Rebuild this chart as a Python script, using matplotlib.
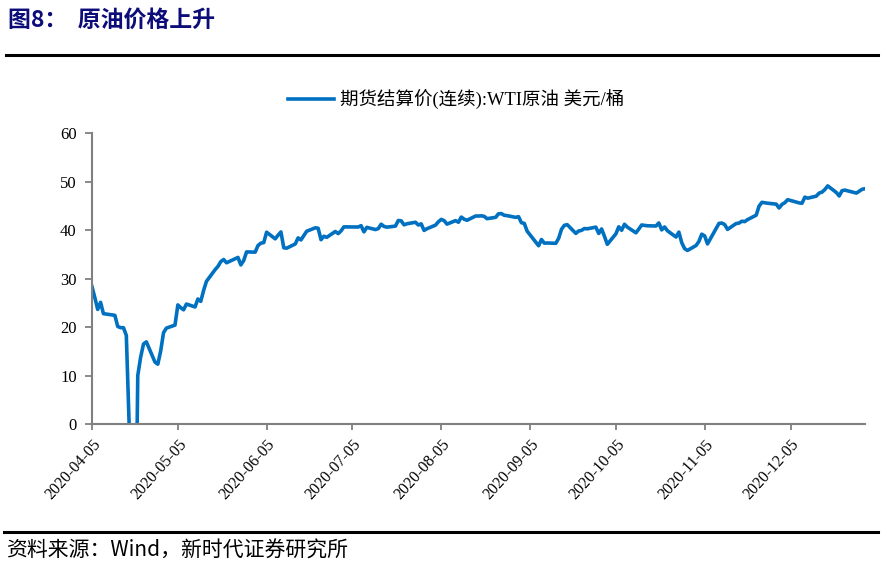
import matplotlib
matplotlib.use("Agg")
import matplotlib.pyplot as plt
from matplotlib.lines import Line2D
import pandas as pd

plt.rcParams['font.family'] = ['Liberation Serif', 'Noto Sans CJK SC']

# WTI settle prices
fechas = [
    "2020-04-05", "2020-04-06", "2020-04-07", "2020-04-08", "2020-04-09", "2020-04-13", "2020-04-14",
    "2020-04-15", "2020-04-16", "2020-04-17", "2020-04-20", "2020-04-21", "2020-04-22", "2020-04-23",
    "2020-04-24", "2020-04-27", "2020-04-28", "2020-04-29", "2020-04-30",
    "2020-05-01", "2020-05-04", "2020-05-05", "2020-05-06", "2020-05-07", "2020-05-08", "2020-05-11",
    "2020-05-12", "2020-05-13", "2020-05-14", "2020-05-15", "2020-05-18", "2020-05-19", "2020-05-20",
    "2020-05-21", "2020-05-22", "2020-05-26", "2020-05-27", "2020-05-28", "2020-05-29",
    "2020-06-01", "2020-06-02", "2020-06-03", "2020-06-04", "2020-06-05", "2020-06-08", "2020-06-09",
    "2020-06-10", "2020-06-11", "2020-06-12", "2020-06-15", "2020-06-16", "2020-06-17", "2020-06-18",
    "2020-06-19", "2020-06-22", "2020-06-23", "2020-06-24", "2020-06-25", "2020-06-26", "2020-06-29",
    "2020-06-30",
    "2020-07-01", "2020-07-02", "2020-07-06", "2020-07-07", "2020-07-08", "2020-07-09", "2020-07-10",
    "2020-07-13", "2020-07-14", "2020-07-15", "2020-07-16", "2020-07-17", "2020-07-20", "2020-07-21",
    "2020-07-22", "2020-07-23", "2020-07-24", "2020-07-27", "2020-07-28", "2020-07-29", "2020-07-30",
    "2020-07-31",
    "2020-08-03", "2020-08-04", "2020-08-05", "2020-08-06", "2020-08-07", "2020-08-10", "2020-08-11",
    "2020-08-12", "2020-08-13", "2020-08-14", "2020-08-17", "2020-08-18", "2020-08-19", "2020-08-20",
    "2020-08-21", "2020-08-24", "2020-08-25", "2020-08-26", "2020-08-27", "2020-08-28", "2020-08-31",
    "2020-09-01", "2020-09-02", "2020-09-03", "2020-09-04", "2020-09-08", "2020-09-09", "2020-09-10",
    "2020-09-11", "2020-09-14", "2020-09-15", "2020-09-16", "2020-09-17", "2020-09-18", "2020-09-21",
    "2020-09-22", "2020-09-23", "2020-09-24", "2020-09-25", "2020-09-28", "2020-09-29", "2020-09-30",
    "2020-10-01", "2020-10-02", "2020-10-05", "2020-10-06", "2020-10-07", "2020-10-08", "2020-10-09",
    "2020-10-12", "2020-10-13", "2020-10-14", "2020-10-15", "2020-10-16", "2020-10-19", "2020-10-20",
    "2020-10-21", "2020-10-22", "2020-10-23", "2020-10-26", "2020-10-27", "2020-10-28", "2020-10-29",
    "2020-10-30",
    "2020-11-02", "2020-11-03", "2020-11-04", "2020-11-05", "2020-11-06", "2020-11-09", "2020-11-10",
    "2020-11-11", "2020-11-12", "2020-11-13", "2020-11-16", "2020-11-17", "2020-11-18", "2020-11-19",
    "2020-11-20", "2020-11-23", "2020-11-24", "2020-11-25", "2020-11-27", "2020-11-30",
    "2020-12-01", "2020-12-02", "2020-12-03", "2020-12-04", "2020-12-07", "2020-12-08", "2020-12-09",
    "2020-12-10", "2020-12-11", "2020-12-14", "2020-12-15", "2020-12-16", "2020-12-17", "2020-12-18",
    "2020-12-21", "2020-12-22", "2020-12-23", "2020-12-24", "2020-12-28", "2020-12-29", "2020-12-30",
    "2020-12-31",
]

precio = [
    28.34, 26.08, 23.63, 25.09, 22.76, 22.41, 20.11,
    19.87, 19.87, 18.27, -37.63, 10.01, 13.78, 16.50,
    16.94, 12.78, 12.34, 15.06, 18.84,
    19.78, 20.39, 24.56, 23.99, 23.55, 24.74, 24.14,
    25.78, 25.29, 27.56, 29.43, 31.82, 32.50, 33.49,
    33.92, 33.25, 34.35, 32.81, 33.71, 35.49,
    35.44, 36.81, 37.29, 37.41, 39.55, 38.19, 38.94,
    39.60, 36.34, 36.26, 37.12, 38.38, 37.96, 38.84,
    39.75, 40.46, 40.37, 38.01, 38.72, 38.49, 39.70,
    39.27,
    39.82, 40.65, 40.63, 40.62, 40.90, 39.62, 40.55,
    40.10, 40.29, 41.20, 40.75, 40.59, 40.81, 41.96,
    41.90, 41.07, 41.29, 41.60, 41.04, 41.27, 39.92,
    40.27,
    41.01, 41.70, 42.19, 41.95, 41.22, 41.94, 41.61,
    42.67, 42.24, 42.01, 42.89, 42.89, 42.93, 42.82,
    42.34, 42.62, 43.35, 43.39, 43.04, 42.97, 42.61,
    42.76, 41.51, 41.37, 39.77, 36.76, 38.05, 37.30,
    37.33, 37.26, 38.28, 40.16, 40.97, 41.11, 39.31,
    39.80, 39.93, 40.31, 40.25, 40.60, 39.29, 40.22,
    38.72, 37.05, 39.22, 40.67, 39.95, 41.19, 40.60,
    39.43, 40.20, 41.04, 40.96, 40.88, 40.83, 41.46,
    40.03, 40.64, 39.85, 38.56, 39.57, 37.39, 36.17,
    35.79,
    36.81, 37.66, 39.15, 38.79, 37.14, 40.29, 41.36,
    41.45, 41.12, 40.13, 41.34, 41.43, 41.82, 41.74,
    42.15, 43.06, 44.91, 45.71, 45.53, 45.34,
    44.55, 45.28, 45.64, 46.26, 45.76, 45.60, 45.52,
    46.78, 46.57, 46.99, 47.62, 47.82, 48.36, 49.10,
    47.74, 47.02, 48.12, 48.23, 47.62, 48.00, 48.40,
    48.52,
]

ticks_x = ["2020-04-05", "2020-05-05", "2020-06-05", "2020-07-05", "2020-08-05",
           "2020-09-05", "2020-10-05", "2020-11-05", "2020-12-05"]
ticks_y = [0, 10, 20, 30, 40, 50, 60]

serie = "期货结算价(连续):WTI原油 美元/桶"

t = pd.to_datetime(fechas)
tx = pd.to_datetime(ticks_x)

fig = plt.figure(figsize=(8.92, 5.70), dpi=100)
ax = fig.add_axes([0.1031, 0.2561, 0.8666, 0.5105])

ax.plot(t, precio, color='#0070C0', lw=2.6, label=serie, solid_joinstyle='round')

ax.set_ylim(0, 60)
ax.set_yticks(ticks_y)
ax.set_xlim(pd.Timestamp("2020-04-05"), pd.Timestamp("2020-12-31"))
ax.set_xticks(tx)
ax.set_xticklabels(ticks_x, rotation=48, ha='right', va='top', rotation_mode='anchor', fontsize=11.5)
ax.tick_params(axis='y', labelsize=12, length=5, width=1.3, color='#808080', pad=6)
ax.tick_params(axis='x', length=4, width=1.3, color='#808080', pad=5)

for lado in ['top', 'right']:
    ax.spines[lado].set_visible(False)
for lado in ['left', 'bottom']:
    ax.spines[lado].set_color('#808080')
    ax.spines[lado].set_linewidth(1.5)

fig.legend(loc='center', bbox_to_anchor=(0.511, 1 - 100/570), frameon=False,
           fontsize=13.3, handlelength=2.5, handletextpad=0.3)

fig.text(8/892, 1 - 20/570, "图8：  原油价格上升", fontsize=16.5, fontweight='bold',
         color='#0d0d7a', va='center', ha='left', family=['Noto Sans CJK SC'])
fig.add_artist(Line2D([6/892, 878/892], [1 - 55/570, 1 - 55/570], color='black', lw=2.2))
fig.add_artist(Line2D([4/892, 878/892], [1 - 532/570, 1 - 532/570], color='black', lw=2.2))
fig.text(6/892, 1 - 551/570, "资料来源：Wind，新时代证券研究所", fontsize=15,
         color='black', va='center', ha='left', family=['Noto Sans CJK SC'])

fig.savefig("out.png", dpi=100)
